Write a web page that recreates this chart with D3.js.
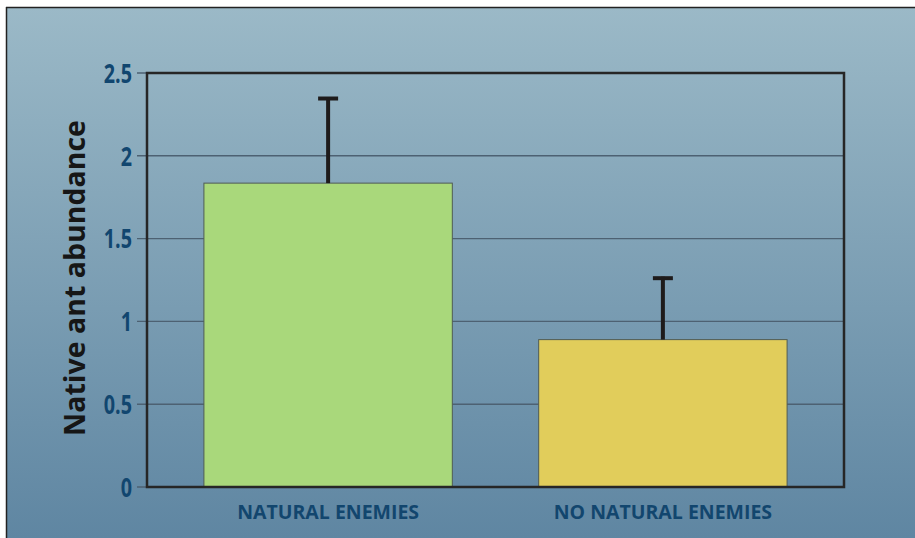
<!DOCTYPE html>
<html>
<head>
<meta charset="utf-8">
<script src="https://cdn.jsdelivr.net/npm/d3@7/dist/d3.min.js"></script>
<style>
  html, body { margin: 0; padding: 0; background: #fff; }
  svg { display: block; }
</style>
</head>
<body>
<svg id="chart" width="915" height="538"></svg>
<script>
const categories = ["NATURAL ENEMIES", "NO NATURAL ENEMIES"];
const values = [1.835, 0.89];
const errors = [0.52, 0.38];
const yTicks = [0, 0.5, 1, 1.5, 2, 2.5];
const yTickLabels = ["0", "0.5", "1", "1.5", "2", "2.5"];
const barColors = ["#a9d87b", "#e1cd5b"];
const yTitle = "Native ant abundance";

const svg = d3.select("#chart");
const W = 915, H = 538;
const m = { left: 147, right: 844, top: 73, bottom: 487 };

const defs = svg.append("defs");
const grad = defs.append("linearGradient").attr("id", "bg").attr("x1", 0).attr("y1", 0).attr("x2", 0).attr("y2", 1);
grad.append("stop").attr("offset", "0%").attr("stop-color", "#9bb9c7");
grad.append("stop").attr("offset", "100%").attr("stop-color", "#5f86a2");

svg.append("rect").attr("x", 0).attr("y", 0).attr("width", W).attr("height", H).attr("fill", "#fff");
svg.append("rect").attr("x", 6).attr("y", 7).attr("width", W - 6).attr("height", H - 7).attr("fill", "url(#bg)");
svg.append("line").attr("x1", 6).attr("x2", W).attr("y1", 7.5).attr("y2", 7.5).attr("stroke", "#222").attr("stroke-width", 1.5);
svg.append("line").attr("x1", 6.5).attr("x2", 6.5).attr("y1", 7).attr("y2", H).attr("stroke", "#222").attr("stroke-width", 1.5);

const y = d3.scaleLinear().domain([0, 2.5]).range([m.bottom, m.top]);
const x = d3.scaleBand().domain(categories).range([m.left, m.right])
  .paddingInner(0.258).paddingOuter(0.17).align(0.5);

// Gridlines + tick marks
svg.append("g").selectAll("line").data(yTicks).join("line")
  .attr("x1", 137).attr("x2", m.right)
  .attr("y1", d => y(d)).attr("y2", d => y(d))
  .attr("stroke", "#4d6172").attr("stroke-width", 1.4);

// Y axis labels
const yAxis = d3.axisLeft(y).tickValues(yTicks).tickFormat((d, i) => yTickLabels[i]).tickSize(0).tickPadding(0);
const ya = svg.append("g").attr("transform", `translate(132,0)`).call(yAxis);
ya.select(".domain").remove();
ya.attr("font-family", null).attr("font-size", null);
ya.selectAll("text")
  .attr("x", 0)
  .attr("dy", "0.36em")
  .attr("transform", "scale(0.76,1)")
  .style("font-family", "'Open Sans', sans-serif")
  .style("font-weight", "bold")
  .style("font-size", "26px")
  .attr("fill", "#11466f");

// Bars
svg.append("g").selectAll("rect").data(categories).join("rect")
  .attr("x", d => x(d))
  .attr("width", x.bandwidth())
  .attr("y", (d, i) => y(values[i]))
  .attr("height", (d, i) => y(0) - y(values[i]))
  .attr("fill", (d, i) => barColors[i])
  .attr("stroke", "#4f5b55").attr("stroke-width", 1);

// Error bars
const eb = svg.append("g");
categories.forEach((c, i) => {
  const cx = x(c) + x.bandwidth() / 2;
  eb.append("line").attr("x1", cx).attr("x2", cx)
    .attr("y1", y(values[i])).attr("y2", y(values[i] + errors[i]))
    .attr("stroke", "#1e1b1b").attr("stroke-width", 4);
  eb.append("line").attr("x1", cx - 10).attr("x2", cx + 10)
    .attr("y1", y(values[i] + errors[i]) + 1.5).attr("y2", y(values[i] + errors[i]) + 1.5)
    .attr("stroke", "#1e1b1b").attr("stroke-width", 4);
});

// Plot frame
svg.append("rect").attr("x", m.left).attr("y", m.top)
  .attr("width", m.right - m.left).attr("height", m.bottom - m.top)
  .attr("fill", "none").attr("stroke", "#262626").attr("stroke-width", 2.5);

// Category labels
const xAxis = d3.axisBottom(x).tickSize(0).tickPadding(0);
const xa = svg.append("g").attr("transform", `translate(0,${m.bottom})`).call(xAxis);
xa.select(".domain").remove();
xa.attr("font-family", null).attr("font-size", null);
xa.selectAll("text")
  .attr("y", 32)
  .attr("dy", 0)
  .attr("text-anchor", "middle")
  .style("font-family", "'Open Sans', sans-serif")
  .style("font-weight", "bold")
  .style("font-size", "19.5px")
  .attr("fill", "#12466e");

// Y title
svg.append("text")
  .attr("transform", `translate(85,278) rotate(-90)`)
  .attr("text-anchor", "middle")
  .style("font-family", "'Open Sans', sans-serif")
  .style("font-weight", "bold")
  .style("font-size", "28.5px")
  .attr("fill", "#161616")
  .text(yTitle);
</script>
</body>
</html>
